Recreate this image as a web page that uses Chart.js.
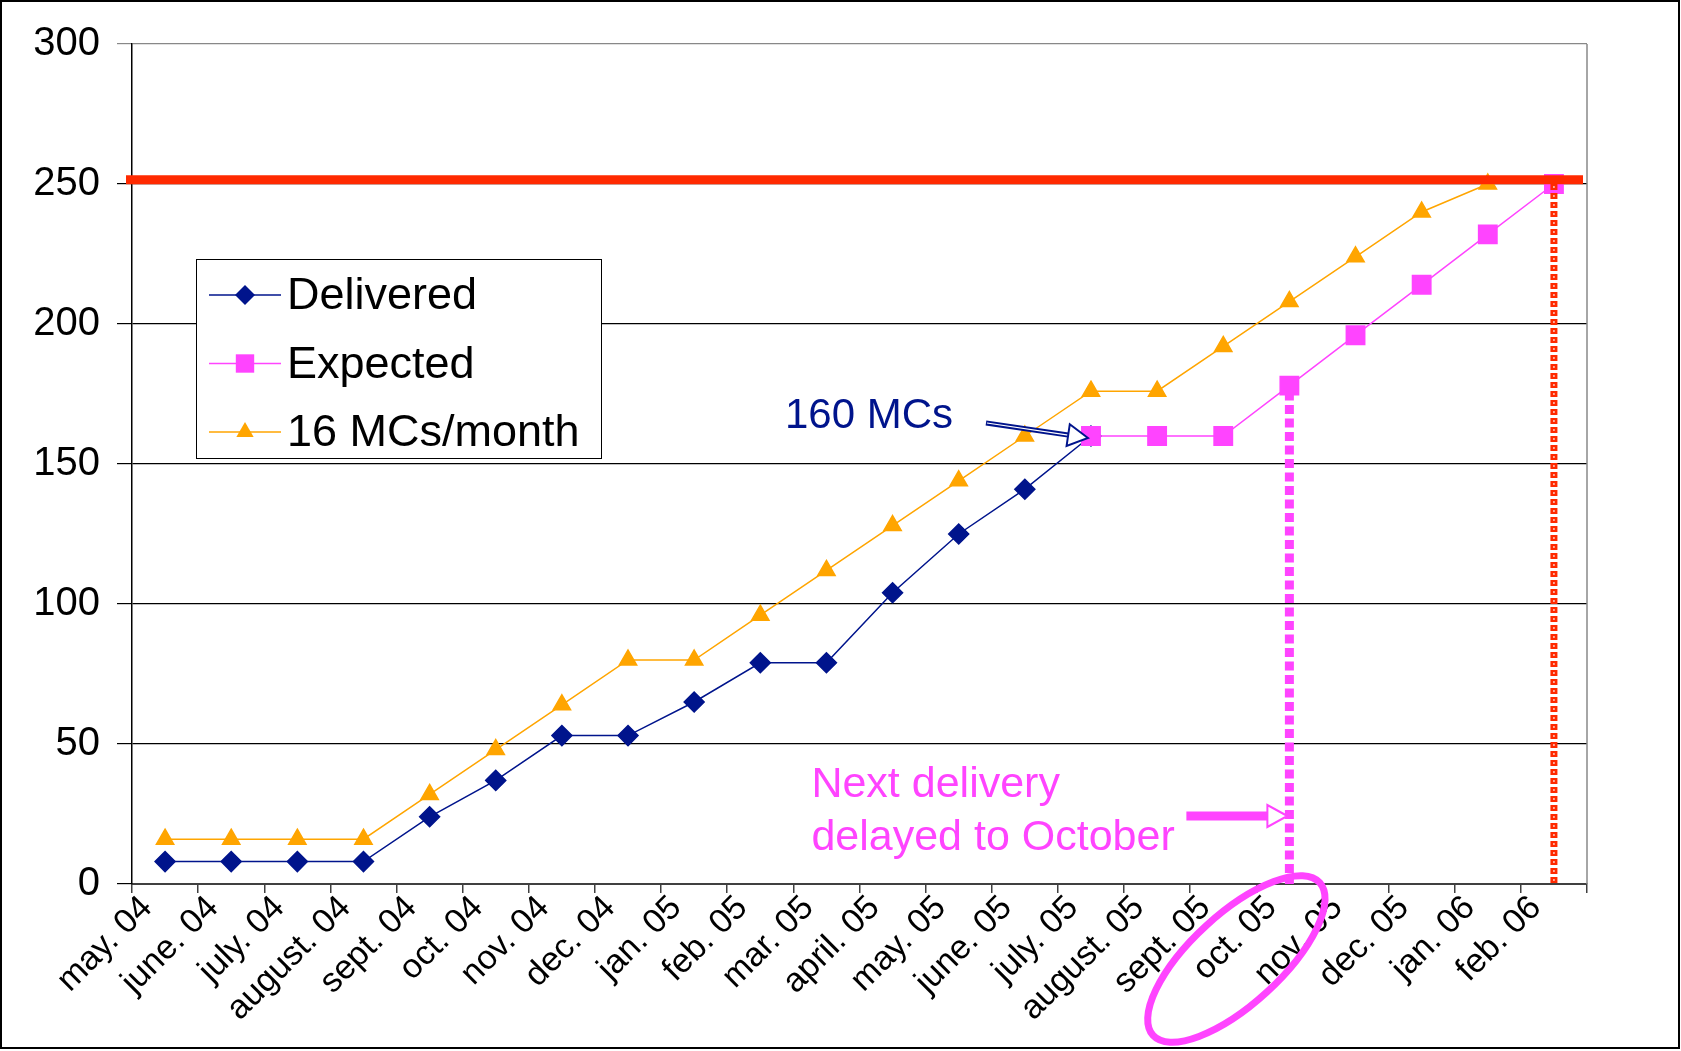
<!DOCTYPE html>
<html>
<head>
<meta charset="utf-8">
<script src="https://cdn.jsdelivr.net/npm/chart.js@4.4.1/dist/chart.umd.min.js"></script>
<style>
  html, body { margin: 0; padding: 0; background: #fff; }
  #chart { display: block; }
</style>
</head>
<body>
<canvas id="chart" width="1681" height="1051"></canvas>
<script>
// months on the x axis
const months = ['may. 04', 'june. 04', 'july. 04', 'august. 04', 'sept. 04', 'oct. 04', 'nov. 04', 'dec. 04',
  'jan. 05', 'feb. 05', 'mar. 05', 'april. 05', 'may. 05', 'june. 05', 'july. 05', 'august. 05',
  'sept. 05', 'oct. 05', 'nov. 05', 'dec. 05', 'jan. 06', 'feb. 06'];

// MCs delivered so far (cumulative)
const delivered = [8, 8, 8, 8, 24, 37, 53, 53, 65, 79, 79, 104, 125, 141, 160,
  null, null, null, null, null, null, null];

// expected deliveries from july 05 on
const expected = [null, null, null, null, null, null, null, null, null, null, null, null, null, null,
  160, 160, 160, 178, 196, 214, 232, 250];

// the 16 MCs/month plan
const plan16 = [16, 16, 16, 16, 32, 48, 64, 80, 80, 96, 112, 128, 144, 160, 176, 176, 192, 208, 224, 240, 250, null];

const yMax = 300;
const yStep = 50;
const target = 251.5;       // red limit line
const delayIndex = 17;      // oct. 05
const endIndex = 21;        // feb. 06

const FONT = "'Liberation Sans', Arial, sans-serif";
const NAVY = '#00148c';
const PINK = '#ff44ff';
const ORANGE = '#ffa500';
const RED = '#ff2a00';

// drawing the marker shapes for the legend
function marker(ctx, style, x, y, r, color) {
    ctx.save();
    ctx.fillStyle = color;
    ctx.beginPath();
    if (style === 'rectRot') {
        ctx.moveTo(x, y - r); ctx.lineTo(x + r, y); ctx.lineTo(x, y + r); ctx.lineTo(x - r, y);
    } else if (style === 'rect') {
        const s = r * Math.SQRT1_2;
        ctx.rect(x - s, y - s, 2 * s, 2 * s);
    } else {
        ctx.moveTo(x, y - r);
        ctx.lineTo(x + r * Math.sin(Math.PI * 2 / 3), y - r * Math.cos(Math.PI * 2 / 3));
        ctx.lineTo(x + r * Math.sin(Math.PI * 4 / 3), y - r * Math.cos(Math.PI * 4 / 3));
    }
    ctx.closePath();
    ctx.fill();
    ctx.restore();
}

function openHead(ctx, tipX, tipY, len, half, angle, color, lw) {
    ctx.save();
    ctx.translate(tipX, tipY);
    ctx.rotate(angle);
    ctx.beginPath();
    ctx.moveTo(0, 0);
    ctx.lineTo(-len, -half);
    ctx.lineTo(-len, half);
    ctx.closePath();
    ctx.fillStyle = '#fff';
    ctx.fill();
    ctx.lineWidth = lw;
    ctx.strokeStyle = color;
    ctx.stroke();
    ctx.restore();
}

const notes = {
    id: 'notes',
    beforeDatasetsDraw(chart) {
        const { ctx, chartArea: a } = chart;
        ctx.save();
        ctx.strokeStyle = '#888';
        ctx.lineWidth = 1.5;
        ctx.beginPath();
        ctx.moveTo(a.right, a.top);
        ctx.lineTo(a.right, a.bottom);
        ctx.stroke();
        ctx.restore();
    },
    afterDatasetsDraw(chart) {
        const { ctx, chartArea: a, scales: { x, y } } = chart;
        ctx.save();

        // pink dashed drop line at the delayed delivery
        const dx = x.getPixelForValue(delayIndex);
        ctx.strokeStyle = PINK;
        ctx.lineWidth = 9;
        ctx.setLineDash([9, 4.5]);
        ctx.beginPath();
        ctx.moveTo(dx, y.getPixelForValue(expected[delayIndex]) + 6);
        ctx.lineTo(dx, a.bottom);
        ctx.stroke();

        // red dotted drop line at the end
        const ex = x.getPixelForValue(endIndex);
        ctx.strokeStyle = RED;
        ctx.lineWidth = 7;
        ctx.setLineDash([6, 3]);
        ctx.beginPath();
        ctx.moveTo(ex, y.getPixelForValue(expected[endIndex]));
        ctx.lineTo(ex, a.bottom);
        ctx.stroke();
        ctx.strokeStyle = '#fff';
        ctx.lineWidth = 1.5;
        ctx.setLineDash([1.5, 7.5]);
        ctx.lineDashOffset = -2.2;
        ctx.stroke();
        ctx.setLineDash([]);
        ctx.lineDashOffset = 0;

        // red limit line
        const ty = y.getPixelForValue(target);
        ctx.strokeStyle = RED;
        ctx.lineWidth = 9;
        ctx.beginPath();
        ctx.moveTo(a.left - 6, ty);
        ctx.lineTo(a.right - 4, ty);
        ctx.stroke();

        // "160 MCs" label and arrow
        const jx = x.getPixelForValue(14);
        const jy = y.getPixelForValue(160);
        ctx.fillStyle = NAVY;
        ctx.font = '42px ' + FONT;
        ctx.textBaseline = 'alphabetic';
        ctx.textAlign = 'left';
        ctx.fillText('160 MCs', jx - 306, jy - 8);
        const sx = jx - 105, sy = jy - 13, tx = jx - 3, tyy = jy + 2;
        const ang = Math.atan2(tyy - sy, tx - sx);
        const hx = tx - 20 * Math.cos(ang), hy = tyy - 20 * Math.sin(ang);
        ctx.strokeStyle = NAVY;
        ctx.lineWidth = 5;
        ctx.beginPath();
        ctx.moveTo(sx, sy);
        ctx.lineTo(hx, hy);
        ctx.stroke();
        ctx.strokeStyle = '#fff';
        ctx.lineWidth = 1.2;
        ctx.beginPath();
        ctx.moveTo(sx + 1, sy);
        ctx.lineTo(hx, hy);
        ctx.stroke();
        openHead(ctx, tx, tyy, 20, 11, ang, NAVY, 2);

        // "Next delivery" note and its arrow
        ctx.fillStyle = PINK;
        ctx.font = '43px ' + FONT;
        ctx.fillText('Next delivery', dx - 478, a.bottom - 87);
        ctx.fillText('delayed to October', dx - 478, a.bottom - 34);
        const ay = a.bottom - 68;
        ctx.strokeStyle = PINK;
        ctx.lineWidth = 9;
        ctx.beginPath();
        ctx.moveTo(dx - 103, ay);
        ctx.lineTo(dx - 20, ay);
        ctx.stroke();
        openHead(ctx, dx - 2, ay, 20, 11, 0, PINK, 2);

        ctx.restore();
    },
    afterDraw(chart) {
        const { ctx, chartArea: a, scales: { x } } = chart;
        ctx.save();

        // legend box
        const lx = a.left + 64, ly = a.top + 215;
        ctx.fillStyle = '#fff';
        ctx.fillRect(lx, ly, 405, 199);
        ctx.strokeStyle = '#000';
        ctx.lineWidth = 1;
        ctx.strokeRect(lx + 0.5, ly + 0.5, 405, 199);
        const rows = [
            ['Delivered', NAVY, 'rectRot', 10],
            ['Expected', PINK, 'rect', 13],
            ['16 MCs/month', ORANGE, 'triangle', 10]
        ];
        ctx.font = '45px ' + FONT;
        ctx.textBaseline = 'middle';
        rows.forEach((r, i) => {
            const ry = ly + 36 + i * 68.5;
            ctx.strokeStyle = r[1];
            ctx.lineWidth = 1.5;
            ctx.beginPath();
            ctx.moveTo(lx + 13, ry);
            ctx.lineTo(lx + 85, ry);
            ctx.stroke();
            marker(ctx, r[2], lx + 49, ry, r[3], r[1]);
            ctx.fillStyle = '#000';
            ctx.fillText(r[0], lx + 91, ry + 2);
        });

        // ellipse round the october label
        const cx = x.getPixelForValue(delayIndex) - 53;
        ctx.strokeStyle = PINK;
        ctx.lineWidth = 7;
        ctx.beginPath();
        ctx.ellipse(cx, a.bottom + 75, 113, 45, -42.5 * Math.PI / 180, 0, Math.PI * 2);
        ctx.stroke();

        // outer frame
        ctx.strokeStyle = '#000';
        ctx.lineWidth = 2;
        ctx.strokeRect(1, 1, chart.width - 3, chart.height - 4);
        ctx.restore();
    }
};

new Chart(document.getElementById('chart'), {
    type: 'line',
    data: {
        labels: months,
        datasets: [
            {
                label: 'Delivered',
                data: delivered,
                borderColor: NAVY,
                backgroundColor: NAVY,
                borderWidth: 1.5,
                pointStyle: 'rectRot',
                pointRadius: 10,
                order: 2
            },
            {
                label: 'Expected',
                data: expected,
                borderColor: PINK,
                backgroundColor: PINK,
                borderWidth: 1.5,
                pointStyle: 'rect',
                pointRadius: 13,
                order: 1
            },
            {
                label: '16 MCs/month',
                data: plan16,
                borderColor: ORANGE,
                backgroundColor: ORANGE,
                borderWidth: 1.5,
                pointStyle: 'triangle',
                pointRadius: 10,
                order: 3
            }
        ]
    },
    options: {
        responsive: false,
        animation: false,
        layout: { padding: { top: 44, right: 94, left: 0, bottom: 0 } },
        plugins: {
            legend: { display: false },
            tooltip: { enabled: false }
        },
        scales: {
            x: {
                offset: true,
                grid: { offset: true, drawOnChartArea: false, tickLength: 9, color: '#404040', lineWidth: 1.5 },
                border: { color: '#404040', width: 2 },
                ticks: {
                    autoSkip: false,
                    maxRotation: 45,
                    minRotation: 45,
                    labelOffset: -18,
                    padding: -5,
                    color: '#000',
                    font: { family: FONT, size: 34 }
                },
                afterFit(scale) { scale.height = 167; }
            },
            y: {
                min: 0,
                max: yMax,
                ticks: {
                    stepSize: yStep,
                    padding: 17,
                    color: '#000',
                    font: { family: FONT, size: 40 }
                },
                grid: {
                    color: (c) => c.tick && c.tick.value === yMax ? '#888' : '#000',
                    lineWidth: 1.2,
                    tickLength: 15
                },
                border: { color: '#000', width: 1.5 },
                afterFit(scale) { scale.width = 132; }
            }
        }
    },
    plugins: [notes]
});
</script>
</body>
</html>
